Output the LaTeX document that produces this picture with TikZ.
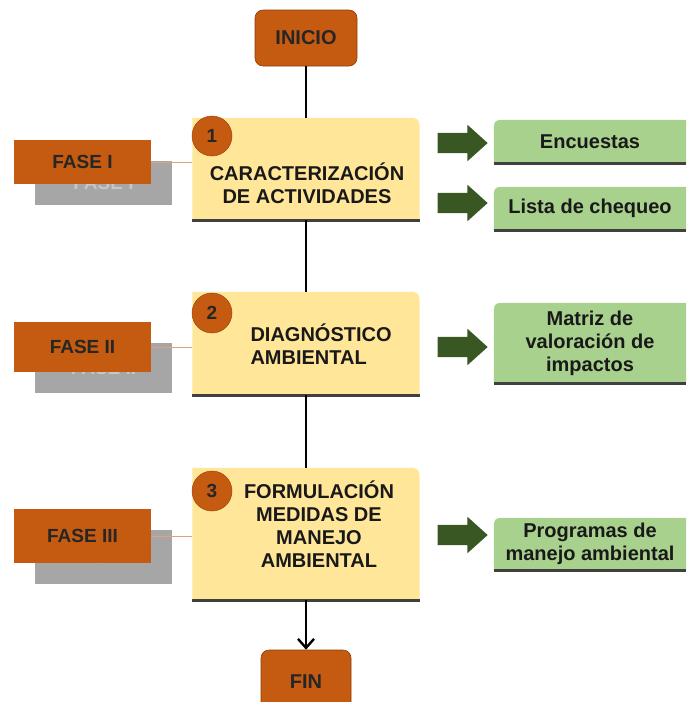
\documentclass[tikz,border=0pt]{standalone}
\usepackage{fontspec}
\setmainfont{Liberation Sans}
\usepackage{xcolor}
\usetikzlibrary{arrows.meta,calc,shapes.arrows,backgrounds}
\definecolor{rustorange}{HTML}{C55A11}
\definecolor{paleyellow}{HTML}{FFE699}
\definecolor{palegreen}{HTML}{A9D18E}
\definecolor{darkgreen}{HTML}{385723}
\definecolor{shadowgray}{HTML}{A6A6A6}
\newcommand{\boxfont}{\fontsize{20}{23}\selectfont\bfseries}
\newcommand{\fasefont}{\fontsize{19}{22}\selectfont\bfseries}
\tikzset{
  endbox/.style={fill=rustorange,draw=rustorange!70!black,line width=0.6pt,rounded corners=8pt,minimum width=102pt,minimum height=56pt,inner sep=0pt,font=\boxfont,text=black!85},
  stepbox/.style={minimum width=227pt,inner sep=0pt},
  steptext/.style={align=center,font=\boxfont,text=black!90},
  numdot/.style={circle,fill=rustorange,draw=rustorange!80!black,line width=0.5pt,minimum size=40pt,inner sep=0pt,font=\fasefont,text=black!85},
  fasebox/.style={fill=rustorange,minimum width=137pt,inner sep=0pt,font=\fasefont,text=black!85},
  fasegray/.style={fill=shadowgray,minimum width=137pt,inner sep=0pt,font=\fasefont,text=black!22},
  faseline/.style={line width=0.8pt,draw=rustorange!55},
  toolbox/.style={minimum width=192pt,inner sep=0pt},
  tooltext/.style={align=center,font=\boxfont,text=black!90},
  blockarrow/.style={single arrow,fill=darkgreen,minimum height=50pt,inner sep=10pt,single arrow head extend=8pt,single arrow tip angle=84},
  flowline/.style={line width=2.4pt,draw=black},
  edgeshade/.style={line width=2.6pt,draw=black!75}
}

\begin{document}
\begin{tikzpicture}[x=1pt,y=-1pt]
  \useasboundingbox (0,0) rectangle (686,702);
  \node[endbox] (inicio) at (306,38) {INICIO};
  \node[stepbox,minimum height=102pt] (act1) at (306,169) {};
  \node[stepbox,minimum height=103pt] (act2) at (306,343.5) {};
  \node[stepbox,minimum height=132pt] (act3) at (306,534) {};
  \node[endbox,minimum width=90pt,minimum height=64pt] (fin) at (306,682) {FIN};

  \node[steptext] (act1txt) at (307,183) {CARACTERIZACIÓN\\DE ACTIVIDADES};
  \node[steptext,align=left,anchor=west] (act2txt) at (247,344) {DIAGNÓSTICO\\AMBIENTAL};
  \node[steptext] (act3txt) at (319,524) {FORMULACIÓN\\MEDIDAS DE\\MANEJO\\AMBIENTAL};
  \foreach \n/\y in {1/136,2/313,3/491}
    \node[numdot] (num\n) at (212,\y) {\n};

  % fases a la izquierda
  \foreach \n/\t/\y/\h in {1/I/162/44,2/II/347/50,3/III/536/54}{
    \node[fasegray,minimum height=\h pt] (fasegray\n) at (103.5,\y+21) {FASE \t};
    \node[fasebox,minimum height=\h pt] (fase\n) at (82.5,\y) {FASE \t};
    \draw[faseline] (fase\n.east) -- (fase\n.east -| act\n.west);
  }

  % herramientas
  \foreach \i/\y in {1/143,2/203,3/347,4/535}
    \node[blockarrow] (arrow\i) at (457,\y) {};
  \node[toolbox,minimum height=43pt] (tool1) at (590,141.5) {};
  \node[toolbox,minimum height=43pt] (tool2) at (590,208.5) {};
  \node[toolbox,minimum height=80pt] (tool3) at (590,343) {};
  \node[toolbox,minimum height=52pt] (tool4) at (590,544) {};
  \node[tooltext] (tool1txt) at (tool1) {Encuestas};
  \node[tooltext] (tool2txt) at (tool2) {Lista de chequeo};
  \node[tooltext] (tool3txt) at (tool3) {Matriz de\\valoración de\\impactos};
  \node[tooltext] (tool4txt) at (tool4) {Programas de\\manejo ambiental};

  \draw[flowline] (inicio) -- (act1);
  \draw[flowline] (act1) -- (act2);
  \draw[flowline] (act2) -- (act3);
  \draw[flowline,-{Straight Barb[length=9pt,width=16pt]}] (act3) -- (fin);

  \begin{scope}[on background layer]
    \foreach \n in {act1,act2,act3}{
      \fill[paleyellow] (\n.south west) -- (\n.north west) -- ($(\n.north east)+(-16,0)$) .. controls (\n.north east) .. ($(\n.north east)+(0,16)$) -- (\n.south east) -- cycle;
      \draw[edgeshade] (\n.south west) -- (\n.south east);
    }
    \foreach \n in {tool1,tool2,tool3,tool4}{
      \fill[palegreen] (\n.south east) -- (\n.north east) -- ($(\n.north west)+(14,0)$) .. controls (\n.north west) .. ($(\n.north west)+(0,14)$) -- (\n.south west) -- cycle;
      \draw[edgeshade] (\n.south west) -- (\n.south east);
    }
  \end{scope}
\end{tikzpicture}
\end{document}
